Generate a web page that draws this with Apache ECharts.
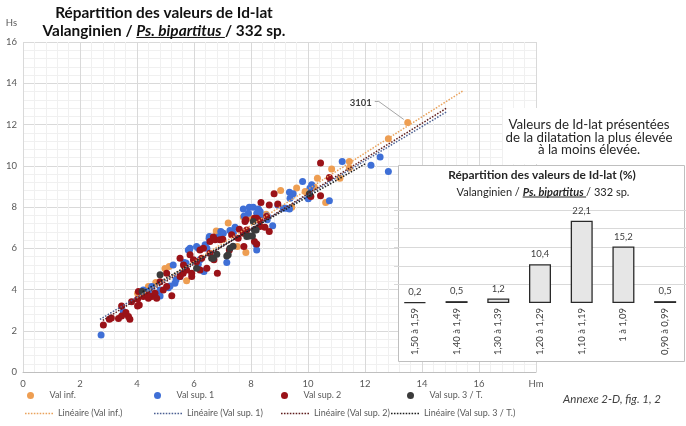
<!DOCTYPE html>
<html><head><meta charset="utf-8">
<script src="https://cdn.jsdelivr.net/npm/echarts@6/dist/echarts.min.js"></script>
<style>html,body{margin:0;padding:0;background:#fff}#c{width:686px;height:426px}</style>
</head><body><div id="c"></div>
<script>
// ---------- data ----------
const valInf = [[13.5,12.1],[12.82,11.31],[11.45,10.21],[11.45,9.89],[10.83,9.84],[11.12,9.40],[10.33,9.40],[10.22,8.97],[9.6,8.92],[9.9,8.75],[10.62,8.22],[9.04,8.80],[9.43,7.99],[8.53,7.65],[8.02,7.45],[7.79,7.49],[7.73,7.51],[7.2,7.22],[6.85,6.81],[6.78,6.84],[7.52,6.08],[7.82,5.79],[5.74,4.43],[5.13,5.11],[4.98,5.02],[4.66,4.34],[4.4,4.14],[4.02,3.82]];
const valSup1 = [[2.74,1.8],[12.53,10.42],[12.21,10.02],[12.82,9.72],[11.2,10.21],[9.81,9.24],[10.13,9.08],[10.07,8.92],[10.01,8.40],[10.75,8.30],[9.35,8.71],[9.48,8.64],[9.37,8.43],[8.94,8.10],[9.13,7.94],[9.23,7.94],[9.35,7.90],[7.73,7.90],[7.94,7.99],[8.08,7.99],[8.26,7.90],[8.32,7.78],[8.2,7.70],[8.32,7.54],[7.91,7.70],[8.76,7.09],[8.57,7.56],[8.57,7.38],[7.76,7.56],[7.44,7.02],[7.26,6.86],[7.38,6.73],[6.94,6.81],[7.03,6.73],[6.53,6.49],[6.85,6.54],[6.54,6.57],[8.18,6.17],[8.2,5.92],[7.15,5.31],[6.33,4.9],[5.84,5.92],[5.65,5.31],[6.09,6.08],[6.15,6.0],[6.39,6.17],[6.45,6.0],[5.8,5.92],[5.86,6.0],[6.15,5.22],[6.21,5.44],[5.27,5.19],[5.72,5.28],[5.51,4.63],[4.81,3.98],[5.1,4.09],[4.22,3.98],[4.4,3.9],[4.81,3.69],[4.52,4.14],[5.16,4.17],[5.33,4.3],[5.37,4.47],[6.35,4.87],[3.52,2.93]];
const valSup2 = [[2.82,2.28],[3.03,2.56],[3.1,2.62],[3.35,2.6],[3.46,2.72],[3.61,2.88],[3.7,2.69],[3.75,2.56],[3.46,3.2],[3.81,3.41],[4.02,3.2],[4.08,3.25],[4.02,3.53],[4.05,3.9],[4.22,3.66],[4.34,3.74],[4.4,3.58],[4.52,3.66],[4.63,3.82],[4.69,3.58],[4.4,3.7],[4.92,3.98],[5.04,4.14],[4.81,4.38],[5.22,3.7],[5.04,4.79],[5.51,4.63],[5.62,4.79],[5.92,4.79],[5.92,4.63],[6.21,4.95],[6.82,4.79],[5.63,5.19],[5.74,4.95],[5.51,5.52],[5.86,5.68],[5.98,5.44],[6.09,5.35],[6.56,5.76],[6.7,5.44],[6.21,5.92],[6.27,5.52],[6.45,5.03],[6.33,6.0],[6.56,6.33],[6.74,6.41],[6.91,6.41],[7.24,5.92],[7.75,6.08],[7.32,6.65],[7.73,6.73],[7.55,6.49],[7.01,6.44],[6.68,6.54],[7.59,6.92],[7.85,6.89],[8.49,7.02],[8.64,6.81],[8.12,6.33],[8.2,6.21],[7.79,7.30],[7.82,7.38],[8.12,7.45],[8.32,7.33],[8.32,7.05],[8.2,7.46],[8.55,7.54],[8.64,8.10],[8.35,8.22],[8.81,8.64],[8.94,8.14],[10.1,8.51],[10.44,8.54],[10.44,10.13],[10.75,9.43]];
const valSup3 = [[4.18,3.9],[4.81,4.71],[6.09,5.03],[6.62,5.52],[6.68,5.52],[6.8,5.71],[7.2,5.68],[7.15,5.63],[7.26,6.0],[7.37,6.1],[7.85,6.57],[7.94,6.6],[8.05,6.6],[8.18,6.89],[8.12,6.89],[8.08,7.30],[8.14,6.92],[10.05,8.64]];
const trendInf  = [[4.0,3.6],[15.45,13.64]];
const trendSup1 = [[2.7,2.55],[14.87,12.62]];
const trendSup2 = [[2.8,2.5],[14.87,12.8]];
const trendSup3 = [[4.2,3.9],[12.05,10.13]];
const labelledPoint = {name:'3101', value:[13.5,12.1]};
const classes  = ['1,50 à 1,59','1,40 à 1,49','1,30 à 1,39','1,20 à 1,29','1,10 à 1,19','1 à 1,09','0,90 à 0,99'];
const percents = [0.2,0.5,1.2,10.4,22.1,15.2,0.5];
const seriesNames = ['Val inf.','Val sup. 1','Val sup. 2','Val sup. 3 / T.'];
const trendNames  = ['Linéaire (Val inf.)','Linéaire (Val sup. 1)','Linéaire (Val sup. 2)','Linéaire (Val sup. 3 / T.)'];

// ---------- styling ----------
const FF = 'Lato';
const dotColors   = ['#EE9E52','#3F6FD6','#9A1218','#3B3B3B'];
const trendColors = ['#E9A25C','#4B5F92','#5E1C1C','#1E1E1E'];

const cv = document.createElement('canvas').getContext('2d');
function fnt(p,size){ return (p.st||'normal')+' '+(p.wt||'normal')+' '+size+'px '+FF; }
function widthOf(parts,size){ let t=0; parts.forEach(p=>{cv.font=fnt(p,size); t+=cv.measureText(p.t).width;}); return t; }
function fit(parts,target){ return 100*target/widthOf(parts,100); }

const chart = echarts.init(document.getElementById('c'));
const scatterData = [valInf, valSup1, valSup2, valSup3];
const trendData = [trendInf, trendSup1, trendSup2, trendSup3];

const series = [];
scatterData.forEach((d,i)=>series.push({name:seriesNames[i], type:'scatter', data:d, symbol:'circle', symbolSize:7,
  itemStyle:{color:dotColors[i], opacity:1}, z:2, silent:true}));
trendData.forEach((d,i)=>series.push({name:trendNames[i], type:'line', data:d, symbol:'none', showSymbol:false,
  lineStyle:{color:trendColors[i], width:1.5, type:[1.5,1.5]}, itemStyle:{color:trendColors[i]}, z:3, silent:true}));
series.push({type:'bar', xAxisIndex:1, yAxisIndex:1, data:percents, barWidth:22, z:6,
  itemStyle:{color:'#E6E6E6', borderColor:'#2A2A2A', borderWidth:1.3},
  label:{show:true, position:'top', distance:5, fontFamily:FF, fontSize:9.5, color:'#404040',
    formatter:p=>String(p.value).replace('.',',')}});

// dotted-line legend icon (row of small squares)
let dotPath = 'path://';
for (let k=0;k<10;k++) dotPath += 'M'+(k*3)+',0h1.6v1.6h-1.6z';
const legFont = Math.min(9.5, fit([{t:'Linéaire (Val sup. 1)'}], 76));
const legends = [];
const row1 = [27,154,281,407], row2=[25,154,281,391];
seriesNames.forEach((n,i)=>legends.push({data:[{name:n, icon:'circle'}], left:row1[i], top:391, padding:0, itemWidth:28, itemHeight:7,
  selectedMode:false, textStyle:{fontFamily:FF, fontSize:legFont, color:'#595959'}}));
trendNames.forEach((n,i)=>legends.push({data:[{name:n, icon:dotPath, itemStyle:{color:trendColors[i]}}], left:row2[i], top:409, padding:0, itemWidth:28, itemHeight:7,
  selectedMode:false, textStyle:{fontFamily:FF, fontSize:legFont, color:'#595959'}}));

const axisLbl = {fontFamily:FF, fontSize:9.5, color:'#595959', margin:7};
chart.setOption({
  animation:false,
  backgroundColor:'#fff',
  grid:[{left:23, right:150, top:42, bottom:54}, {left:394, right:-4, top:210, bottom:123}],
  xAxis:[
    {type:'value', min:0, max:18, interval:2, gridIndex:0,
      axisLabel:Object.assign({}, axisLbl, {formatter:v=>v===18?'Hm':String(v)}),
      axisLine:{show:true, lineStyle:{color:'#BFBFBF'}}, axisTick:{show:false},
      splitLine:{lineStyle:{color:'#D9D9D9'}},
      minorTick:{show:false, splitNumber:5}, minorSplitLine:{show:true, lineStyle:{color:'#F0F0F0'}}},
    {type:'category', gridIndex:1, data:classes, z:4,
      axisLine:{show:false}, axisTick:{show:false},
      axisLabel:{rotate:90, fontFamily:FF, fontSize:9.5, color:'#404040', margin:5, interval:0}}
  ],
  yAxis:[
    {type:'value', min:0, max:16, interval:2, gridIndex:0,
      axisLabel:Object.assign({}, axisLbl, {margin:6}),
      axisLine:{show:false}, axisTick:{show:false},
      splitLine:{lineStyle:{color:'#D9D9D9'}},
      minorTick:{show:false, splitNumber:5}, minorSplitLine:{show:true, lineStyle:{color:'#F0F0F0'}}},
    {type:'value', gridIndex:1, min:0, max:25, interval:5, z:4,
      axisLabel:{show:false}, axisLine:{show:false}, axisTick:{show:false},
      splitLine:{lineStyle:{color:['rgba(0,0,0,0)','#D9D9D9','#D9D9D9','#D9D9D9','#D9D9D9','#D9D9D9']}}}
  ],
  legend:legends,
  series:series
});

// ---------- text blocks ----------
function textLine(parts,cx,cy,size,color,ulOff){
  const els=[]; const tot=widthOf(parts,size); let x=cx-tot/2;
  parts.forEach(p=>{ cv.font=fnt(p,size); const w=cv.measureText(p.t).width;
    els.push({type:'text', z:20, style:{text:p.t, x:x, y:cy, font:fnt(p,size), fill:color,
      align:'left', verticalAlign:'middle', textAlign:'left', textVerticalAlign:'middle'}});
    if(p.u) els.push({type:'line', z:20, shape:{x1:x, y1:cy+ulOff, x2:x+w, y2:cy+ulOff}, style:{stroke:color, lineWidth:1}});
    x+=w; });
  return els;
}
const g = [];
g.push({type:'rect', z:1, shape:{x:503, y:108, width:183, height:56}, style:{fill:'#fff'}});
g.push({type:'rect', z:1, shape:{x:398.5, y:165.5, width:286, height:196}, style:{fill:'#fff', stroke:'#BFBFBF', lineWidth:1}});
const t1 = [{t:'Répartition des valeurs de Id-lat', wt:'bold'}];
const sT = fit(t1, 218);
g.push(...textLine(t1, 164, 13, sT, '#111', 0));
g.push(...textLine([{t:'Valanginien / ', wt:'bold'},{t:'Ps. bipartitus ', wt:'bold', st:'italic', u:true},{t:'/ 332 sp.', wt:'bold'}], 164, 31, sT, '#111', sT*0.42));
const i1 = [{t:'Répartition des valeurs de Id-lat (%)', wt:'bold'}];
const sI = fit(i1, 188);
g.push(...textLine(i1, 542, 175, sI, '#262626', 0));
const i2 = [{t:'Valanginien / '},{t:'Ps. bipartitus ', wt:'bold', st:'italic', u:true},{t:'/ 332 sp.'}];
g.push(...textLine(i2, 543, 192, fit(i2,173), '#262626', 5));
const a2 = [{t:'de la dilatation la plus élevée'}];
const sA = fit(a2, 167);
g.push(...textLine([{t:'Valeurs de Id-lat présentées'}], 589, 125, sA, '#262626', 0));
g.push(...textLine(a2, 589, 137.5, sA, '#262626', 0));
g.push(...textLine([{t:'à la moins élevée.'}], 589, 150, sA, '#262626', 0));
const an = [{t:'Annexe 2-D, fig. 1, 2', st:'italic'}];
g.push(...textLine(an, 612, 399, fit(an,98), '#404040', 0));
g.push({type:'text', z:20, style:{text:'Hs', x:17, y:23, font:'normal normal 9.5px '+FF, fill:'#595959', align:'right', verticalAlign:'middle', textAlign:'right', textVerticalAlign:'middle'}});
const pp = chart.convertToPixel({xAxisIndex:0, yAxisIndex:0}, labelledPoint.value);
g.push({type:'polyline', z:20, shape:{points:[[pp[0]-33,pp[1]-21],[pp[0]-29,pp[1]-21],[pp[0]-4,pp[1]-3]]}, style:{stroke:'#A6A6A6', lineWidth:1, fill:null}});
g.push({type:'text', z:20, style:{text:labelledPoint.name, x:pp[0]-36, y:pp[1]-20, font:'normal bold 9.5px '+FF, fill:'#404040', align:'right', verticalAlign:'middle', textAlign:'right', textVerticalAlign:'middle'}});
chart.setOption({graphic:{elements:g}});
</script></body></html>
